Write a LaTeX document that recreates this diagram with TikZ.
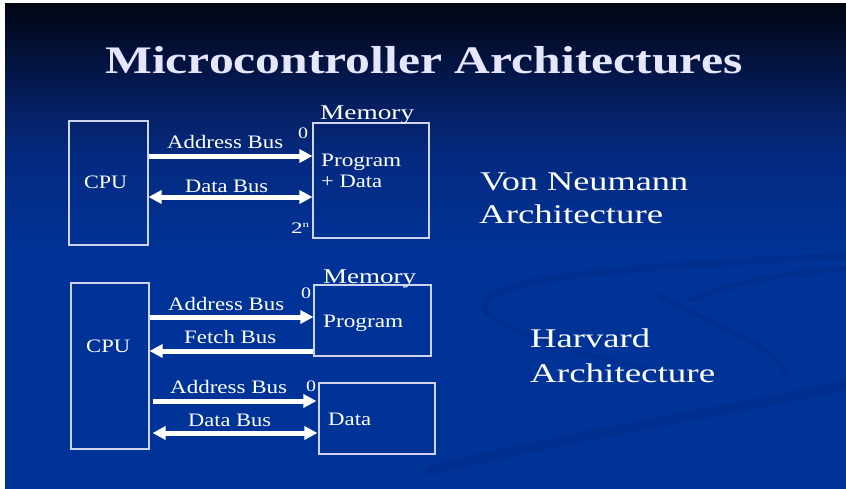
\documentclass[tikz,border=0pt]{standalone}
\usepackage{fontspec}
\setmainfont{Liberation Serif}
\usetikzlibrary{arrows.meta}

\definecolor{bgA}{RGB}{0,51,152}
\definecolor{bgB}{RGB}{4,42,128}
\definecolor{bgC}{RGB}{6,30,94}
\definecolor{bgD}{RGB}{3,17,56}
\definecolor{bgE}{RGB}{2,6,20}
\definecolor{boxline}{RGB}{205,212,236}
\definecolor{titlecol}{RGB}{230,230,250}
\definecolor{swooshdark}{RGB}{0,30,110}

% vertical shading: the band 25bp..75bp spans the filled rectangle
\pgfdeclareverticalshading{slidebg}{100bp}{color(0bp)=(bgA); color(25bp)=(bgA); color(49bp)=(bgA); color(59bp)=(bgB); color(65bp)=(bgC); color(70bp)=(bgD); color(75bp)=(bgE); color(100bp)=(bgE)}

% stretch text horizontally to a given width, keeping its height
\newcommand{\stretchtxt}[2]{\resizebox{#1pt}{\height}{#2}}

\begin{document}
\begin{tikzpicture}[x=1pt,y=-1pt,
  box/.style={draw=boxline, line width=1.1pt, inner sep=0pt},
  txt/.style={anchor=base west, inner sep=0pt, text=white},
  bus/.style={draw=white, line width=5pt, -{Triangle[length=13pt,width=13pt]}},
  dbus/.style={draw=white, line width=5pt, {Triangle[length=13pt,width=13pt]}-{Triangle[length=13pt,width=13pt]}},
  swoosh/.style={draw=swooshdark, opacity=0.22, line cap=round},
  lbl/.style={txt, font=\fontsize{19}{22}\selectfont},
  big/.style={txt, font=\fontsize{27}{32}\selectfont},
  small/.style={txt, font=\fontsize{16}{18}\selectfont}
]
\useasboundingbox (0,0) rectangle (846,488);
\fill[white] (0,0) rectangle (846,488);
\shade[shading=slidebg] (5,3) rectangle (846,488);

% faint background swooshes
\begin{scope}
  \clip (5,3) rectangle (846,488);
  \draw[swoosh, line width=10pt] (430,470) .. controls (600,430) and (760,405) .. (860,382);
  \draw[swoosh, line width=7pt] (486,310) .. controls (470,280) and (600,268) .. (860,255);
  \draw[swoosh, line width=5pt] (660,296) .. controls (700,320) and (770,340) .. (785,372);
  \draw[swoosh, line width=4pt] (486,312) .. controls (520,340) and (600,360) .. (700,380);
  \draw[swoosh, line width=6pt] (690,300) .. controls (740,280) and (800,270) .. (860,268);
\end{scope}

% title
\node[txt, text=titlecol, font=\fontsize{39}{44}\selectfont\bfseries] (title) at (105,73) {\stretchtxt{637}{Microcontroller Architectures}};

% ---------- Von Neumann ----------
\node[box, minimum width=79pt, minimum height=124pt] (cpu1) at (108.5,183) {};
\node[lbl] (cpu1t) at (84,188) {\stretchtxt{43}{CPU}};
\node[box, minimum width=116pt, minimum height=115pt] (mem1) at (371,180.5) {};
\node[txt, font=\fontsize{21}{24}\selectfont] (mem1t) at (320,119) {\stretchtxt{94}{Memory}};
\node[small] (z1) at (298,138) {\stretchtxt{10}{0}};
\node[small] (n1) at (291,233) {\stretchtxt{18}{2\raisebox{6pt}{\fontsize{9}{10}\selectfont n}}};
\node[lbl] (p1) at (321,166) {\stretchtxt{80}{Program}};
\node[lbl] (d1) at (321,187) {\stretchtxt{61}{+ Data}};

\coordinate (yA1) at (0,156);
\coordinate (yD1) at (0,197);
\draw[bus] (cpu1.east |- yA1) -- (mem1.west |- yA1);
\draw[dbus] (cpu1.east |- yD1) -- (mem1.west |- yD1);
\node[lbl] (ab1) at (167,148) {\stretchtxt{116}{Address Bus}};
\node[lbl] (db1) at (185,192) {\stretchtxt{83}{Data Bus}};

\node[big] (vn1) at (480,190) {\stretchtxt{208}{Von Neumann}};
\node[big] (vn2) at (479,223) {\stretchtxt{184}{Architecture}};

% ---------- Harvard ----------
\node[box, minimum width=78pt, minimum height=166pt] (cpu2) at (110,366) {};
\node[lbl] (cpu2t) at (86,352) {\stretchtxt{44}{CPU}};
\node[txt, font=\fontsize{21}{24}\selectfont] (mem2t) at (323,283) {\stretchtxt{93}{Memory}};
\node[box, minimum width=117pt, minimum height=71pt] (prog) at (372.5,320.5) {};
\node[small] (z2) at (301,298) {\stretchtxt{10}{0}};
\node[lbl] (p2) at (323,327) {\stretchtxt{80}{Program}};
\node[box, minimum width=116pt, minimum height=71pt] (dmem) at (377,418.5) {};
\node[small] (z3) at (306,391) {\stretchtxt{10}{0}};
\node[lbl] (d2) at (328,425) {\stretchtxt{43}{Data}};

\coordinate (yA2) at (0,317);
\coordinate (yF2) at (0,351);
\coordinate (yA3) at (0,401);
\coordinate (yD3) at (0,433);
\draw[bus] (cpu2.east |- yA2) -- (prog.west |- yA2);
\draw[bus] (prog.west |- yF2) -- (cpu2.east |- yF2);
\draw[bus, shorten <=3pt, shorten >=2pt] (cpu2.east |- yA3) -- (dmem.west |- yA3);
\draw[dbus, shorten <=3pt, shorten >=1pt] (cpu2.east |- yD3) -- (dmem.west |- yD3);
\node[lbl] (ab2) at (168,310) {\stretchtxt{116}{Address Bus}};
\node[lbl] (fb2) at (184,343) {\stretchtxt{92}{Fetch Bus}};
\node[lbl] (ab3) at (170,393) {\stretchtxt{117}{Address Bus}};
\node[lbl] (db3) at (188,426) {\stretchtxt{83}{Data Bus}};

\node[big] (hv1) at (530,347) {\stretchtxt{120}{Harvard}};
\node[big] (hv2) at (530,382) {\stretchtxt{185}{Architecture}};
\end{tikzpicture}
\end{document}
